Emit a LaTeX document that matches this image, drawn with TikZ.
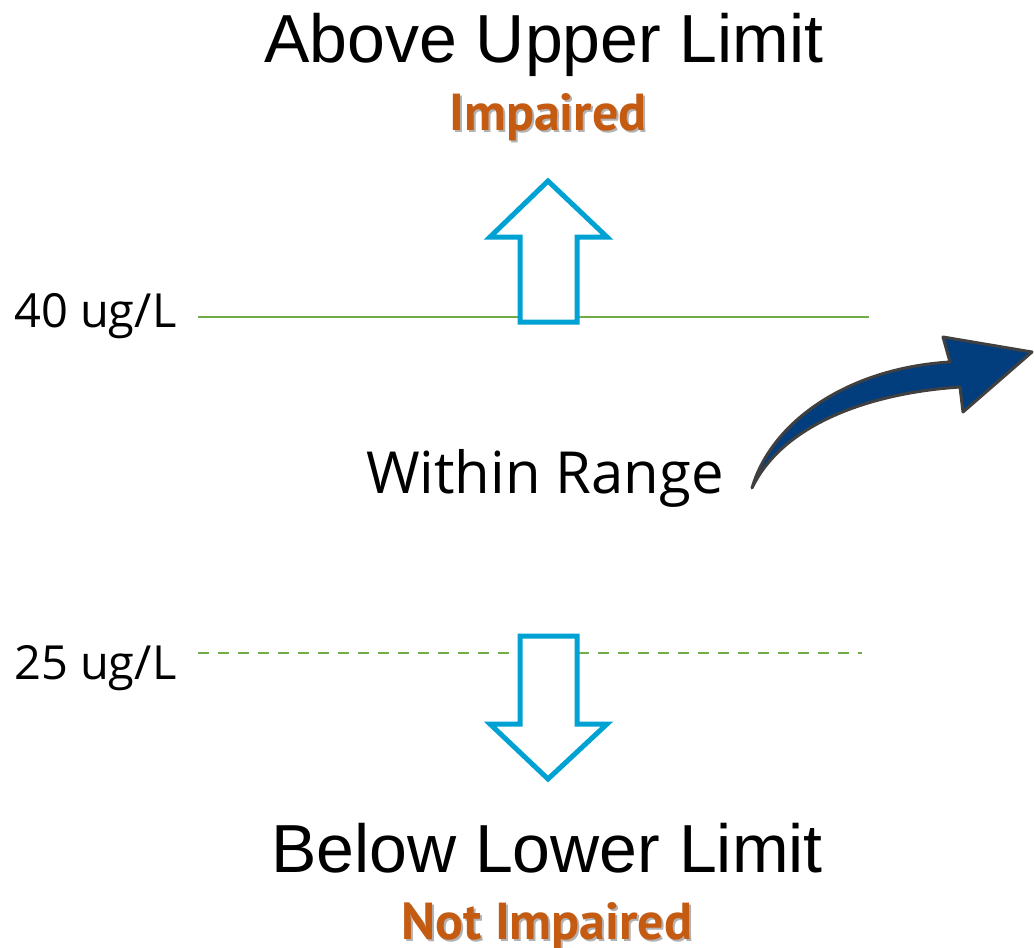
\documentclass[tikz,border=0pt]{standalone}
\usepackage{fontspec}
\setmainfont{Open Sans}
\newfontfamily\headfont{Liberation Sans}
\newfontfamily\statusfont{PT Sans}
\definecolor{limitgreen}{RGB}{112,173,71}
\definecolor{arrowblue}{RGB}{0,162,212}
\definecolor{statusorange}{RGB}{197,90,17}
\definecolor{curvenavy}{RGB}{2,62,125}
\definecolor{curveedge}{RGB}{64,64,64}
\newcommand{\shadowed}[1]{\makebox[0pt][l]{\hspace{2pt}\raisebox{-2pt}{\color{black!30}#1}}#1}

\begin{document}
\begin{tikzpicture}[
  x=1pt, y=-1pt,
  heading/.style={
    font=\headfont\fontsize{68}{72}\selectfont,
    anchor=base,
    inner sep=0pt
  },
  status/.style={
    font=\statusfont\bfseries\fontsize{52}{56}\selectfont,
    text=statusorange,
    anchor=base,
    inner sep=0pt
  },
  level label/.style={
    font=\fontsize{47}{50}\selectfont,
    anchor=base west,
    inner sep=0pt
  },
  limit line/.style={
    limitgreen,
    line width=2.5pt
  },
  block arrow/.style={
    draw=arrowblue,
    fill=white,
    line width=5pt,
    line join=miter
  },
  curvy arrow/.style={
    draw=curveedge,
    fill=curvenavy,
    line width=3pt,
    line join=round
  },
]
\useasboundingbox (0,0) rectangle (1034,948);

% limits
\node[level label] (upper) at (14,327) {40 ug/L};
\node[level label] (lower) at (14,679) {25 ug/L};
\draw[limit line] (198,317) -- (869,317);
\draw[limit line, dash pattern=on 11pt off 9pt] (198,653) -- (862,653);

% block arrows
\draw[block arrow] (548,181) -- (607,237) -- (577,237) -- (577,322)
  -- (520,322) -- (520,237) -- (490,237) -- cycle;
\draw[block arrow] (548,779) -- (607,724) -- (577,724) -- (577,636)
  -- (520,636) -- (520,724) -- (490,724) -- cycle;

% texts
\node[heading] (above) at (544,62) {Above Upper Limit};
\node[status] (impaired) at (548,130) {\shadowed{Impaired}};
\node[heading, font=\fontsize{58}{62}\selectfont] (within) at (545,493) {Within Range};
\node[heading] (below) at (547,872) {Below Lower Limit};
\node[status] (notimpaired) at (547,939) {\shadowed{Not Impaired}};

% curved arrow
\draw[curvy arrow] (752,488) .. controls (772,420) and (850,368) .. (950,362)
  -- (943,337) -- (1032,352) -- (963,412) -- (960,387)
  .. controls (868,393) and (782,425) .. cycle;
\end{tikzpicture}
\end{document}
